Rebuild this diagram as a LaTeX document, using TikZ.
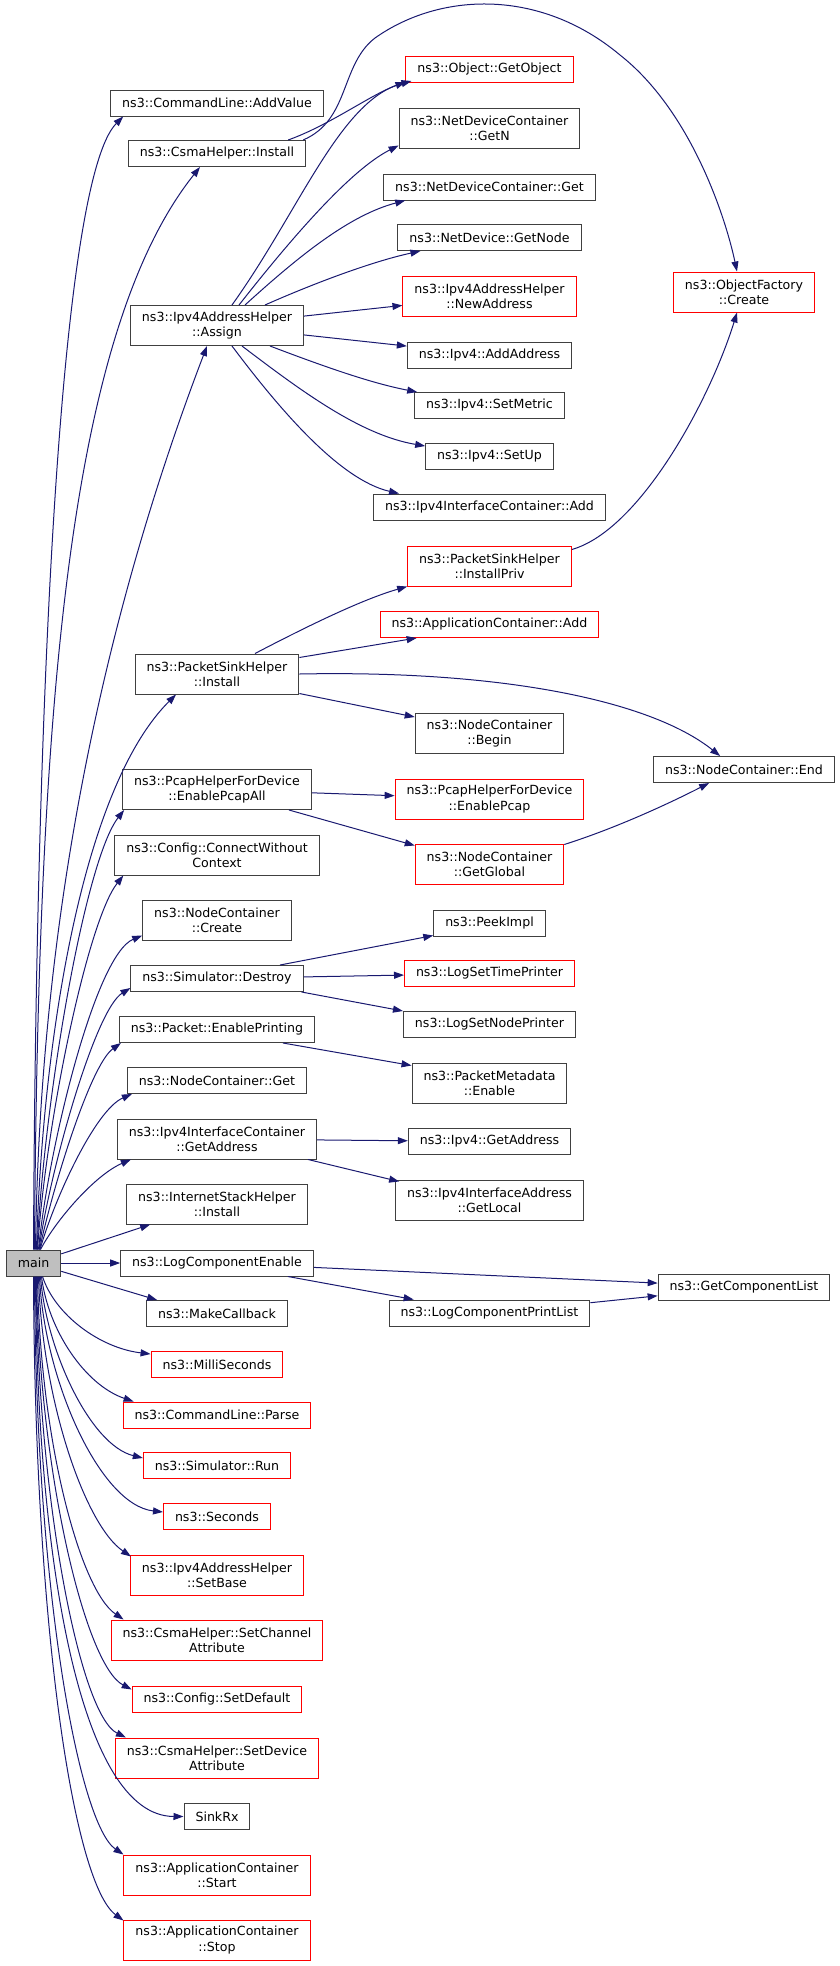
\documentclass[tikz,border=0pt]{standalone}
\usepackage{fontspec}
\setmainfont{DejaVu Sans}
\usepackage{tikz}
\usetikzlibrary{arrows.meta}
\usepackage{xcolor}
\definecolor{edgeblue}{RGB}{25,25,112}
\definecolor{boxgray}{RGB}{64,64,64}
\definecolor{mainfill}{RGB}{191,191,191}
\tikzset{fn/.style={rectangle, draw=boxgray, line width=1pt, inner xsep=11.5pt, inner ysep=0pt, minimum height=26pt, align=center, font=\fontsize{12.6pt}{15.3pt}\selectfont},
fntwo/.style={fn, minimum height=40pt},
fnred/.style={fn, draw=red},
fntwored/.style={fntwo, draw=red},
mainfn/.style={fn, fill=mainfill},
call/.style={draw=edgeblue, line width=1pt, -{Triangle[length=10pt, width=7pt]}}}

\begin{document}
\begin{tikzpicture}[x=1pt, y=-1pt]
        \useasboundingbox (0,0) rectangle (840,1966);
        % Caller
        \node[mainfn] (main) at (33.5,1263) {main};
        % First column
        \foreach \nm/\ypos/\st/\txt in {
            addvalue/103/fn/{ns3::CommandLine::AddValue},
            csmainstall/153.5/fn/{ns3::CsmaHelper::Install},
            assign/325.5/fntwo/{ns3::Ipv4AddressHelper\\::Assign},
            psinstall/674/fntwo/{ns3::PacketSinkHelper\\::Install},
            pcapall/789.5/fntwo/{ns3::PcapHelperForDevice\\::EnablePcapAll},
            connect/855/fntwo/{ns3::Config::ConnectWithout\\Context},
            nccreate/920/fntwo/{ns3::NodeContainer\\::Create},
            destroy/978.5/fn/{ns3::Simulator::Destroy},
            enableprinting/1029.5/fn/{ns3::Packet::EnablePrinting},
            ncget/1080.5/fn/{ns3::NodeContainer::Get},
            getaddress/1139/fntwo/{ns3::Ipv4InterfaceContainer\\::GetAddress},
            internetstack/1204/fntwo/{ns3::InternetStackHelper\\::Install},
            logenable/1263/fn/{ns3::LogComponentEnable},
            makecallback/1313.5/fn/{ns3::MakeCallback},
            milliseconds/1364.5/fnred/{ns3::MilliSeconds},
            parse/1415/fnred/{ns3::CommandLine::Parse},
            run/1465.5/fnred/{ns3::Simulator::Run},
            seconds/1516.5/fnred/{ns3::Seconds},
            setbase/1575/fntwored/{ns3::Ipv4AddressHelper\\::SetBase},
            setchannel/1640/fntwored/{ns3::CsmaHelper::SetChannel\\Attribute},
            setdefault/1699/fnred/{ns3::Config::SetDefault},
            setdevice/1758/fntwored/{ns3::CsmaHelper::SetDevice\\Attribute},
            sinkrx/1816.5/fn/{SinkRx},
            appstart/1875/fntwored/{ns3::ApplicationContainer\\::Start},
            appstop/1940/fntwored/{ns3::ApplicationContainer\\::Stop}} {
            \node[\st] (\nm) at (217,\ypos) {\txt};
        }
        % Second column
        \foreach \nm/\ypos/\st/\txt in {
            getobject/69.5/fnred/{ns3::Object::GetObject},
            getn/128/fntwo/{ns3::NetDeviceContainer\\::GetN},
            ndcget/187/fn/{ns3::NetDeviceContainer::Get},
            getnode/237.5/fn/{ns3::NetDevice::GetNode},
            newaddress/296/fntwored/{ns3::Ipv4AddressHelper\\::NewAddress},
            addaddress/355/fn/{ns3::Ipv4::AddAddress},
            setmetric/405.5/fn/{ns3::Ipv4::SetMetric},
            setup/456.5/fn/{ns3::Ipv4::SetUp},
            ifadd/507/fn/{ns3::Ipv4InterfaceContainer::Add},
            installpriv/566/fntwored/{ns3::PacketSinkHelper\\::InstallPriv},
            appadd/624.5/fnred/{ns3::ApplicationContainer::Add},
            ncbegin/733.5/fntwo/{ns3::NodeContainer\\::Begin},
            pcap/799/fntwored/{ns3::PcapHelperForDevice\\::EnablePcap},
            getglobal/864/fntwored/{ns3::NodeContainer\\::GetGlobal},
            peekimpl/923/fn/{ns3::PeekImpl},
            timeprinter/973.5/fnred/{ns3::LogSetTimePrinter},
            nodeprinter/1024.5/fn/{ns3::LogSetNodePrinter},
            metaenable/1083/fntwo/{ns3::PacketMetadata\\::Enable},
            ipv4getaddress/1141.5/fn/{ns3::Ipv4::GetAddress},
            getlocal/1200/fntwo/{ns3::Ipv4InterfaceAddress\\::GetLocal},
            printlist/1313/fn/{ns3::LogComponentPrintList}} {
            \node[\st] (\nm) at (489.5,\ypos) {\txt};
        }
        % Third column
        \node[fntwored] (objfactory) at (744,292) {ns3::ObjectFactory\\::Create};
        \node[fn] (ncend) at (744,769.5) {ns3::NodeContainer::End};
        \node[fn] (complist) at (744,1287) {ns3::GetComponentList};
        % Calls from main, upwards
        \draw[call] (main.north) .. controls (36,700) and (60,180) .. ([xshift=13pt]addvalue.south west);
        \draw[call] ([xshift=1pt]main.north) .. controls (38,700) and (70,330) .. ([xshift=-17pt]csmainstall.south);
        \draw[call] ([xshift=2pt]main.north) .. controls (40,900) and (110,600) .. ([xshift=-10pt]assign.south);
        \draw[call] ([xshift=3pt]main.north) .. controls (42,1050) and (80,790) .. ([xshift=-41pt]psinstall.south);
        \draw[call] ([xshift=3.5pt]main.north) .. controls (44,1100) and (85,860) .. ([xshift=2pt]pcapall.south west);
        \draw[call] ([xshift=4pt]main.north) .. controls (46,1120) and (88,920) .. ([xshift=9pt]connect.south west);
        \draw[call] ([xshift=5pt]main.north) .. controls (48,1150) and (95,955) .. ([yshift=5pt]nccreate.south west);
        \draw[call] ([xshift=5.5pt]main.north) .. controls (50,1170) and (95,1010) .. ([yshift=4pt]destroy.south west);
        \draw[call] ([xshift=6pt]main.north) .. controls (52,1190) and (90,1065) .. ([xshift=2pt]enableprinting.south west);
        \draw[call] ([xshift=6.5pt]main.north) .. controls (54,1200) and (95,1110) .. ([xshift=5pt]ncget.south west);
        \draw[call] ([xshift=7pt]main.north) .. controls (56,1220) and (95,1175) .. ([xshift=14pt]getaddress.south west);
        \draw[call] (main) -- ([xshift=24pt]internetstack.south west);
        \draw[call] (main) -- (logenable);
        \draw[call] (main) -- ([xshift=11pt]makecallback.north west);
        % Calls from main, downwards
        \draw[call] ([xshift=9pt]main.south) .. controls (55,1315) and (100,1348) .. ([yshift=-3pt]milliseconds.north west);
        \draw[call] ([xshift=8pt]main.south) .. controls (48,1330) and (85,1385) .. ([xshift=11pt]parse.north west);
        \draw[call] ([xshift=7pt]main.south) .. controls (46,1350) and (90,1445) .. ([yshift=-6pt]run.north west);
        \draw[call] ([xshift=6pt]main.south) .. controls (44,1380) and (100,1505) .. ([yshift=-9pt]seconds.north west);
        \draw[call] ([xshift=5pt]main.south) .. controls (42,1400) and (85,1525) .. ([xshift=1pt, yshift=-2pt]setbase.north west);
        \draw[call] ([xshift=4pt]main.south) .. controls (40,1440) and (80,1590) .. ([xshift=13pt]setchannel.north west);
        \draw[call] ([xshift=3pt]main.south) .. controls (39,1470) and (85,1665) .. ([yshift=-4pt]setdefault.north west);
        \draw[call] ([xshift=2.5pt]main.south) .. controls (38,1500) and (80,1715) .. ([xshift=11pt]setdevice.north west);
        \draw[call] ([xshift=2pt]main.south) .. controls (37,1560) and (80,1816) .. (sinkrx.west);
        \draw[call] ([xshift=1pt]main.south) .. controls (36,1600) and (80,1825) .. (appstart.north west);
        \draw[call] (main.south) .. controls (35,1640) and (75,1885) .. ([yshift=-1pt]appstop.north west);
        % Calls from the first column
        \draw[call] ([xshift=-18pt]csmainstall.north east) .. controls (330,125) and (370,95) .. ([yshift=1pt]getobject.south west);
        \draw[call] ([xshift=-3pt]csmainstall.north east) .. controls (350,120) and (340,65) .. (375,38)
            .. controls (440,-8) and (540,-12) .. (620,55) .. controls (690,110) and (725,215) .. ([xshift=-7pt]objfactory.north);
        \draw[call] ([xshift=15pt]assign.north) .. controls (300,210) and (340,100) .. ([xshift=6pt, yshift=2pt]getobject.south west);
        \draw[call] ([xshift=22pt]assign.north) .. controls (290,240) and (350,170) .. ([yshift=3pt]getn.south west);
        \draw[call] ([xshift=28pt]assign.north) .. controls (300,255) and (350,215) .. ([xshift=22pt]ndcget.south west);
        \draw[call] ([xshift=48pt]assign.north) .. controls (310,285) and (370,262) .. ([xshift=23pt]getnode.south west);
        \draw[call] (assign) -- (newaddress);
        \draw[call] (assign) -- (addaddress);
        \draw[call] ([xshift=53pt]assign.south) .. controls (320,365) and (370,383) .. ([xshift=3pt]setmetric.north west);
        \draw[call] ([xshift=25pt]assign.south) .. controls (300,390) and (360,435) .. ([yshift=-3pt]setup.north west);
        \draw[call] ([xshift=15pt]assign.south) .. controls (280,410) and (340,480) .. ([xshift=26pt]ifadd.north west);
        \draw[call] ([xshift=38pt]psinstall.north) .. controls (300,630) and (360,600) .. (installpriv.south west);
        \draw[call] ([yshift=-4pt]psinstall.north east) -- ([xshift=37pt]appadd.south west);
        \draw[call] ([yshift=1pt]psinstall.south east) -- ([yshift=-4pt]ncbegin.north west);
        \draw[call] (psinstall.east) .. controls (500,670) and (650,700) .. ([xshift=67pt]ncend.north west);
        \draw[call] (pcapall) -- (pcap);
        \draw[call] ([xshift=72pt]pcapall.south) -- ([yshift=-2pt]getglobal.north west);
        \draw[call] ([xshift=63pt]destroy.north) -- ([yshift=1pt]peekimpl.south west);
        \draw[call] (destroy) -- (timeprinter);
        \draw[call] ([xshift=-2pt]destroy.south east) -- (nodeprinter.north west);
        \draw[call] ([xshift=66pt]enableprinting.south) -- ([yshift=-3pt]metaenable.north west);
        \draw[call] (getaddress) -- (ipv4getaddress);
        \draw[call] ([xshift=-9pt]getaddress.south east) -- ([xshift=4pt, yshift=-2pt]getlocal.north west);
        \draw[call] (logenable) -- (complist);
        \draw[call] ([xshift=71pt]logenable.south) -- ([xshift=25pt]printlist.north west);
        % Calls from the second column
        \draw[call] ([yshift=-4pt]installpriv.north east) .. controls (640,530) and (710,400) .. ([xshift=-7pt]objfactory.south);
        \draw[call] ([yshift=-1pt]getglobal.north east) .. controls (610,830) and (660,808) .. ([xshift=56pt]ncend.south west);
        \draw[call] (printlist) -- (complist);
\end{tikzpicture}
\end{document}
